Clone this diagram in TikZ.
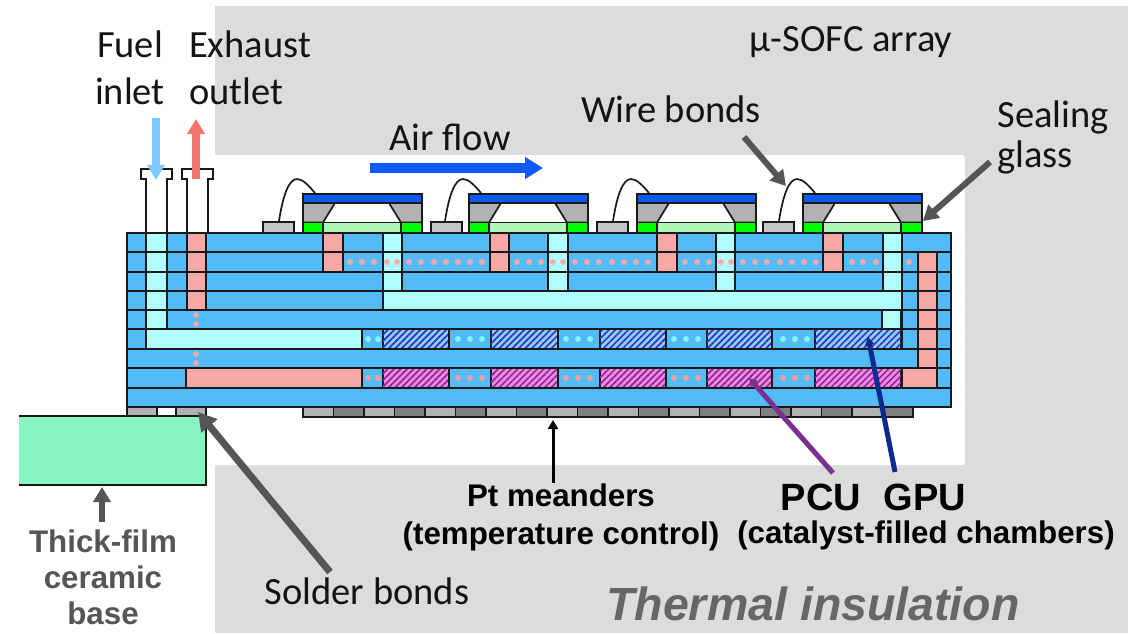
\documentclass[tikz,border=0pt]{standalone}
\usepackage{fontspec}
\usepackage{tikz}
\usetikzlibrary{arrows.meta,patterns.meta}
\setmainfont{Carlito}
\newfontfamily\boldsans{Liberation Sans}[BoldFont={* Bold}]

\definecolor{layerblue}{HTML}{52BBF8}
\definecolor{fuelcyan}{HTML}{B2FFFF}
\definecolor{exhaustpink}{HTML}{F9A8A8}
\definecolor{bggray}{HTML}{DCDCDC}
\definecolor{arrowgray}{HTML}{555555}
\definecolor{basegreen}{HTML}{86F5C2}
\definecolor{palegreen}{HTML}{B2F5B9}
\definecolor{capblue}{HTML}{0A5CF0}
\definecolor{fuelarrow}{HTML}{7FCBFF}
\definecolor{exhaustarrow}{HTML}{F4776D}
\definecolor{airarrow}{HTML}{0F5BFF}
\definecolor{pcuarrow}{HTML}{7B2F8E}
\definecolor{gpuarrow}{HTML}{0B2A8A}
\definecolor{dotcyan}{HTML}{7FF5FF}

\tikzset{
    label/.style={font=\fontsize{38.5}{47}\selectfont, text=black!92, inner sep=0pt},
    boldlabel/.style={font=\boldsans\bfseries\fontsize{31.3}{38}\selectfont, text=black, inner sep=0pt},
    biglabel/.style={boldlabel, font=\boldsans\bfseries\fontsize{38}{40}\selectfont},
    edge/.style={draw=black!90, line width=1.7pt},
    fuelcell/.style={edge, fill=fuelcyan},
    exhaustcell/.style={edge, fill=exhaustpink},
    gpucell/.style={edge, fill=blue!40!cyan!45, postaction={pattern={Lines[angle=45,distance=4.6pt,line width=1.7pt]}, pattern color=blue!70!black!80}},
    pcucell/.style={edge, fill=violet!40!magenta!45, postaction={pattern={Lines[angle=45,distance=4.6pt,line width=1.7pt]}, pattern color=violet!85}},
    bigarrow/.style={arrowgray, line width=6pt, -{Triangle[length=15pt,width=17pt]}},
}

\begin{document}
\begin{tikzpicture}[x=1pt, y=-1pt]
    \useasboundingbox (0,0) rectangle (1136,633);

    % THERMAL INSULATION BACKGROUND
    \fill[bggray] (215,6) rectangle (1128,633);
    \fill[white, rounded corners=3pt] (205,155) rectangle (965,465);

    % BASE AND SOLDER PADS
    \fill[basegreen] (19,416) rectangle (206,485);
    \draw[edge, line width=2.2pt] (19,416) -- (206,416) -- (206,485) -- (19,485);
    \foreach \xa/\xb in {127/157, 176/206} {
        \draw[edge, fill=gray!60] (\xa,407) rectangle (\xb,416);
    }

    % PT MEANDERS
    \foreach \i in {0,...,19} {
        \pgfmathsetmacro{\xa}{303+30.5*\i}
        \pgfmathsetmacro{\xb}{\xa+30.5}
        \pgfmathparse{int(mod(\i,2))}
        \ifnum\pgfmathresult=0
            \draw[edge, fill=gray!60] (\xa,407) rectangle (\xb,417);
        \else
            \draw[edge, fill=gray] (\xa,407) rectangle (\xb,417);
        \fi
    }

    % LAYER STACK
    \fill[layerblue] (127,233) rectangle (951,407);

    % FUEL CHANNELS
    \foreach \xa/\ya/\xb/\yb in {146/233/167/329, 146/329/362/349, 383/233/402/291, 548/233/568/291,
        716/233/735/291, 883/233/902/310, 383/291/902/310, 882/310/901/329} {
        \draw[fuelcell] (\xa,\ya) rectangle (\xb,\yb);
    }
    \fill[fuelcyan] (147,328) rectangle (166,330);
    \fill[fuelcyan] (884,290) rectangle (901,311);

    % EXHAUST CHANNELS
    \foreach \xa/\ya/\xb/\yb in {187/233/206/310, 186/368/362/388, 323/233/343/272, 490/233/509/272,
        657/233/677/272, 823/233/843/272, 918/252/937/388, 902/368/937/388} {
        \draw[exhaustcell] (\xa,\ya) rectangle (\xb,\yb);
    }
    \fill[exhaustpink] (919,367) rectangle (936,369);

    % PCU AND GPU CHAMBERS
    \foreach \xa/\xb in {383/449, 491/558, 600/666, 707/772, 815/901} {
        \draw[gpucell] (\xa,329) rectangle (\xb,349);
        \draw[pcucell] (\xa,368) rectangle (\xb,388);
    }
    \foreach \x in {362, 449, 558, 666, 772} {
        \draw[edge] (\x,329) -- (\x,349);
        \draw[edge] (\x,368) -- (\x,388);
    }

    % WALLS AND LAYER LINES
    \foreach \y in {252, 272, 291, 310, 329, 349, 368, 388} {
        \draw[edge] (127,\y) -- (951,\y);
    }
    \draw[edge] (902,233) -- (902,349);
    \draw[edge] (146,233) -- (146,349);
    \draw[edge] (167,233) -- (167,329);
    \draw[edge, line width=2.2pt] (127,233) rectangle (951,407);

    % DOTS
    \foreach \x in {350,362,374,387,397,409,421,434,446,458,470,482,517,529,541,553,563,575,587,599,612,624,636,648,
        685,697,709,721,731,743,755,767,780,792,804,816,852,863,876,909} {
        \fill[exhaustpink] (\x,262) circle (2.9pt);
    }
    \foreach \x/\y in {196/315, 196/324, 196/354, 196/363} {
        \fill[exhaustpink] (\x,\y) circle (2.9pt);
    }
    \foreach \x in {368,378,458,470,482,566,578,590,674,686,698,783,795,807} {
        \fill[dotcyan] (\x,339) circle (3pt);
        \fill[exhaustpink!95!black] (\x,378) circle (3pt);
    }

    % FUEL AND EXHAUST PIPES
    \foreach \x in {146, 187} {
        \draw[edge] (\x,233) -- (\x,179) -- ({\x-5},179) -- ({\x-5},169) -- ({\x+26},169) -- ({\x+26},179) -- ({\x+21},179) -- ({\x+21},233);
    }
    \coordinate (fueltop) at (156,118);
    \coordinate (fuelend) at (156,180);
    \coordinate (exhausttop) at (196,119);
    \coordinate (exhaustend) at (196,179);
    \draw[fuelarrow, line width=8pt, -{Triangle[length=15pt,width=17pt]}] (fueltop) -- (fuelend);
    \draw[exhaustarrow, line width=8pt, -{Triangle[length=15pt,width=17pt]}] (exhaustend) -- (exhausttop);

    % MICRO CELLS AND WIRE BONDS
    \foreach \c/\p in {303/263, 469/431, 637/597, 803/763} {
        \draw[edge, fill=gray!45] (\p,222) rectangle ({\p+31},233);
        \draw[edge, fill=gray!60] (\c,203) -- ({\c+32},203) -- ({\c+20},222.5) -- (\c,222.5) -- cycle;
        \draw[edge, fill=gray!60] ({\c+119},203) -- ({\c+86},203) -- ({\c+98},222.5) -- ({\c+119},222.5) -- cycle;
        \draw[edge, fill=green] (\c,222.5) rectangle ({\c+20},233);
        \draw[edge, fill=green] ({\c+98},222.5) rectangle ({\c+119},233);
        \draw[edge, fill=palegreen] ({\c+20},222.5) rectangle ({\c+98},233);
        \draw[edge, fill=capblue] (\c,194) rectangle ({\c+119},203);
        \draw[edge, line cap=round] ({\c-24},221) .. controls ({\c-20},195) and ({\c-14},179) .. ({\c-6},179) .. controls ({\c},179) and ({\c+6},186) .. ({\c+12},193);
    }

    % TEXT
    \node[label, align=center] (fuel) at (130,68) {Fuel\\inlet};
    \node[label, align=left] (exhaust) at (250,68) {Exhaust\\outlet};
    \node[label] (air) at (450,137) {Air flow};
    \node[label] (array) at (851,42) {µ-SOFC array};
    \node[label] (wire) at (671,109) {Wire bonds};
    \node[label, align=left, font=\fontsize{38.5}{40}\selectfont] (sealing) at (1053,137) {Sealing\\glass};
    \node[label] (solder) at (367,591) {Solder bonds};
    \node[boldlabel, align=center] (meanders) at (561,517) {Pt meanders\\(temperature control)};
    \node[boldlabel] (catalyst) at (926,535) {(catalyst-filled chambers)};
    \node[biglabel] (pcu) at (821,497) {PCU};
    \node[biglabel] (gpu) at (925,497) {GPU};
    \node[boldlabel, align=center, text=arrowgray, font=\boldsans\bfseries\fontsize{31.3}{36}\selectfont] (base) at (103,577) {Thick-film\\ceramic\\base};
    \node[boldlabel, text=black!60, font=\boldsans\bfseries\itshape\fontsize{46.5}{50}\selectfont] (thermal) at (813,604) {Thermal insulation};

    % ARROWS
    \coordinate (airstart) at (370,168);
    \coordinate (airend) at (543,168);
    \coordinate (wirestart) at (744,137);
    \coordinate (wiretip) at (786,186);
    \coordinate (sealstart) at (990,162);
    \coordinate (sealtip) at (923,221);
    \coordinate (solderstart) at (330,572);
    \coordinate (soldertip) at (198,412);
    \coordinate (basestart) at (102,522);
    \coordinate (basetip) at (102,487);
    \coordinate (ptstart) at (553,483);
    \coordinate (pttip) at (553,420);
    \coordinate (pcustart) at (833,473);
    \coordinate (pcutip) at (749,378);
    \coordinate (gpustart) at (895,472);
    \coordinate (gputip) at (868,337);
    \draw[airarrow, line width=10pt, -{Triangle[length=18pt,width=21pt]}] (airstart) -- (airend);
    \draw[bigarrow] (wirestart) -- (wiretip);
    \draw[bigarrow] (sealstart) -- (sealtip);
    \draw[bigarrow, line width=7pt, -{Triangle[length=18pt,width=20pt]}] (solderstart) -- (soldertip);
    \draw[bigarrow] (basestart) -- (basetip);
    \draw[black, line width=3pt, -{Triangle[length=9pt,width=10pt]}] (ptstart) -- (pttip);
    \draw[pcuarrow, line width=5pt, -{Triangle[length=8pt,width=9pt]}] (pcustart) -- (pcutip);
    \draw[gpuarrow, line width=5pt, -{Triangle[length=8pt,width=9pt]}] (gpustart) -- (gputip);
\end{tikzpicture}
\end{document}
